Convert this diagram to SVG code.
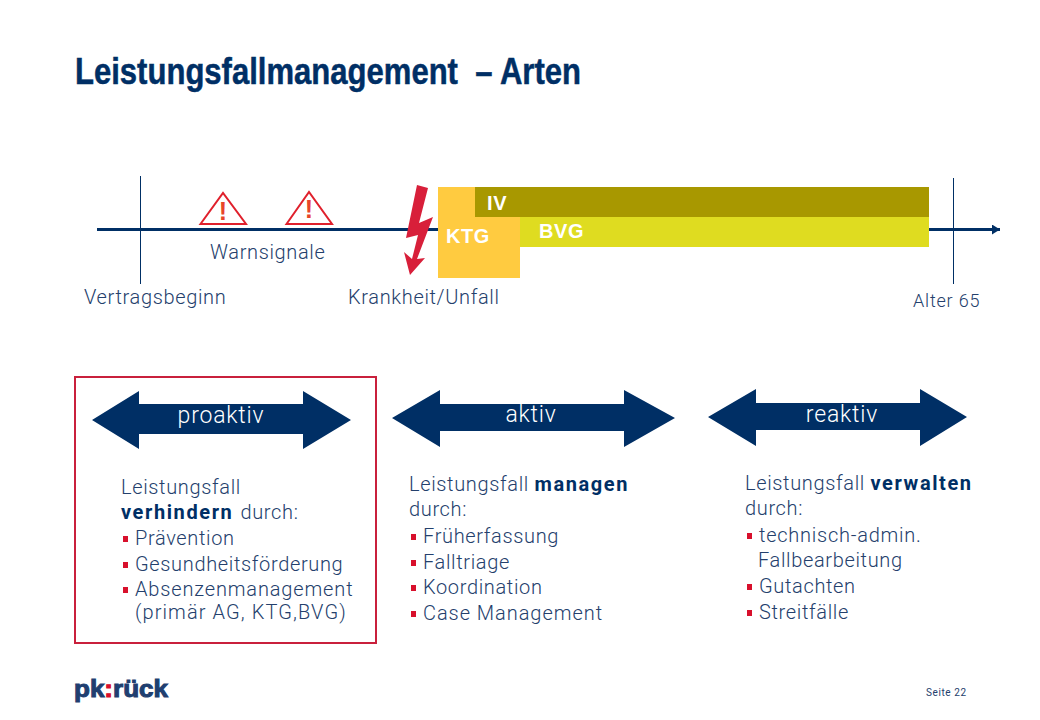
<svg xmlns="http://www.w3.org/2000/svg" width="1040" height="720" viewBox="0 0 1040 720">
<style>
text{font-family:"Roboto","Liberation Sans",sans-serif;fill:#24406c;font-weight:300;font-size:20px;letter-spacing:.65px}
.b{font-weight:700;fill:#002f65;letter-spacing:1.6px}
.w{font-weight:700;fill:#fff;font-size:20px;font-family:"Liberation Sans",sans-serif;letter-spacing:.6px}
.arr{fill:#002f65}
.al{fill:#fff;font-size:23px;text-anchor:middle;font-weight:300;letter-spacing:.8px}
.sq{fill:#d8102c}
.tri{fill:none;stroke:#e0202c;stroke-width:2}
.ex{fill:#e8452a;font-family:"Liberation Sans",sans-serif;font-size:25px;font-weight:700;text-anchor:middle;letter-spacing:0}
.t{font-family:"Liberation Sans",sans-serif;font-size:37px;font-weight:700;fill:#002f65;stroke:#002f65;stroke-width:.5px;letter-spacing:0}
.v{stroke:#002f65;stroke-width:1}
</style>
<defs><marker id="ah" markerUnits="userSpaceOnUse" markerWidth="9" markerHeight="10" refX="8" refY="5" orient="auto"><path d="M0 0L8 5L0 10Z" fill="#002f65"/></marker></defs>
<rect width="1040" height="720" fill="#fff"/>
<text id="title" class="t" x="75" y="84" textLength="506" lengthAdjust="spacingAndGlyphs">Leistungsfallmanagement &#160;– Arten</text>
<g id="connectors">
<path d="M97 229.500H1000" stroke="#002f65" stroke-width="3" marker-end="url(#ah)" fill="none"/>
<path class="v" d="M140.500 176V284M953.500 178V284"/>
</g>
<g id="warn1"><path class="tri" d="M200.500 224L223 193L246 224Z"/><text class="ex" x="223" y="220">!</text></g>
<g id="warn2"><path class="tri" d="M286.500 224L309 192L332 224Z"/><text class="ex" x="309" y="218">!</text></g>
<g id="iv"><rect x="475" y="187" width="454" height="30" fill="#a89800"/><text class="w" x="487" y="210">IV</text></g>
<g id="bvg"><rect x="520" y="217" width="409" height="30" fill="#dfdc20"/><text class="w" x="539" y="238">BVG</text></g>
<g id="ktg"><rect x="438" y="187" width="37" height="30" fill="#ffcb40"/><rect x="438" y="217" width="82" height="61" fill="#ffcb40"/><text class="w" x="446" y="243">KTG</text></g>
<g id="bolt"><path d="M417 185L428 188L419 223L433 217L417 259L425 258L410 275L404 252L412 259L418 235L406 238Z" fill="#d81f3a"/></g>
<text x="210" y="259">Warnsignale</text>
<text x="84" y="304">Vertragsbeginn</text>
<text x="348" y="304">Krankheit/Unfall</text>
<text x="913" y="307" style="font-size:18px;letter-spacing:.8px">Alter 65</text>
<g id="proaktiv">
<rect x="75" y="377" width="301" height="266" fill="none" stroke="#c9203c" stroke-width="2"/>
<path class="arr" d="M92 420L139 391V404H303V391L351 420L303 449V434H139V449Z"/>
<text class="al" x="221" y="423">proaktiv</text>
<text x="121" y="494">Leistungsfall</text>
<text x="121" y="519"><tspan class="b">verhindern</tspan><tspan dx="7">durch:</tspan></text>
<rect class="sq" x="123" y="536" width="5" height="6"/><text x="135" y="545">Prävention</text>
<rect class="sq" x="123" y="562" width="5" height="6"/><text x="135" y="571">Gesundheitsförderung</text>
<rect class="sq" x="123" y="587" width="5" height="6"/><text x="135" y="596" style="letter-spacing:.85px">Absenzenmanagement</text>
<text x="135" y="619" style="letter-spacing:1.1px">(primär AG, KTG,BVG)</text>
</g>
<g id="aktiv">
<path class="arr" d="M392 418L440 390V404H624V390L675 418L624 447V431H440V447Z"/>
<text class="al" x="531" y="422">aktiv</text>
<text x="409" y="491">Leistungsfall <tspan class="b">managen</tspan></text>
<text x="409" y="516">durch:</text>
<rect class="sq" x="411" y="534" width="5" height="6"/><text x="423" y="543">Früherfassung</text>
<rect class="sq" x="411" y="560" width="5" height="6"/><text x="423" y="569">Falltriage</text>
<rect class="sq" x="411" y="585" width="5" height="6"/><text x="423" y="594">Koordination</text>
<rect class="sq" x="411" y="611" width="5" height="6"/><text x="423" y="620" style="letter-spacing:.95px">Case Management</text>
</g>
<g id="reaktiv">
<path class="arr" d="M708 417L756 389V403H920V389L967 417L920 446V430H756V446Z"/>
<text class="al" x="842" y="422">reaktiv</text>
<text x="745" y="490">Leistungsfall <tspan class="b">verwalten</tspan></text>
<text x="745" y="515">durch:</text>
<rect class="sq" x="747" y="533" width="5" height="6"/><text x="759" y="542" style="letter-spacing:.75px">technisch-admin.</text>
<text x="758" y="567">Fallbearbeitung</text>
<rect class="sq" x="747" y="584" width="5" height="6"/><text x="759" y="593">Gutachten</text>
<rect class="sq" x="747" y="610" width="5" height="6"/><text x="759" y="619">Streitfälle</text>
</g>
<g id="logo"><text x="74" y="697" style="font-family:'Liberation Sans',sans-serif;font-size:23px;font-weight:700;fill:#1f3f70;stroke:#1f3f70;stroke-width:1px;letter-spacing:0" textLength="94" lengthAdjust="spacingAndGlyphs">pk<tspan fill="#d8102c" stroke="#d8102c">:</tspan>rück</text></g>
<text x="926" y="696" style="font-size:10px;font-weight:400;letter-spacing:.6px">Seite 22</text>
</svg>
